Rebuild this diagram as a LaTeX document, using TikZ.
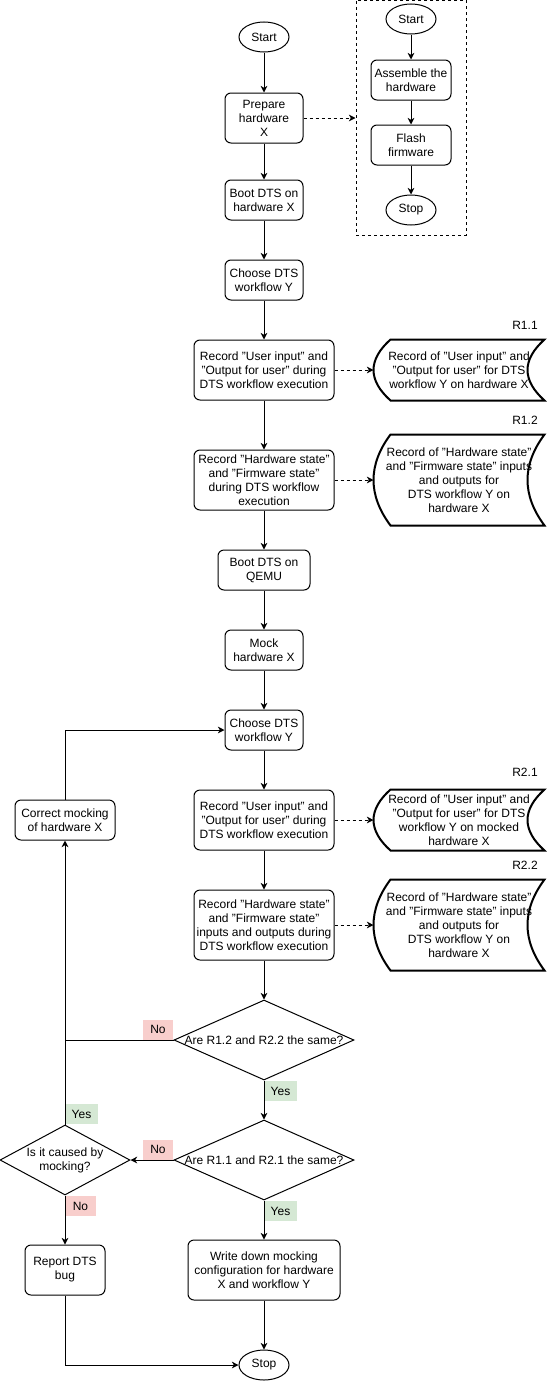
\documentclass[tikz,border=0pt]{standalone}
\usepackage{fontspec}
\setmainfont{Liberation Sans}
\usetikzlibrary{shapes.geometric, arrows.meta, calc}
\definecolor{noRed}{HTML}{F8CECC}
\definecolor{yesGreen}{HTML}{D5E8D4}

\tikzset{
  dims/.style 2 args={minimum width=0.75pt*#1, minimum height=0.75pt*#2},
  proc/.style={draw, rounded corners=4.5pt, inner sep=0pt},
  term/.style={draw, ellipse, inner sep=0pt, dims={50}{30}},
  decision/.style={draw, diamond, inner sep=0pt},
  store/.style={inner sep=0pt},
  flow/.style={-{Stealth[length=5pt, width=5pt, inset=1.5pt]}},
  dashflow/.style={flow, dash pattern=on 2.25pt off 2.25pt},
  nolabel/.style={fill=noRed, inner sep=0pt, dims={30}{20}},
  yeslabel/.style={fill=yesGreen, inner sep=0pt, dims={32}{20}}
}

% outline of a stored-data node: bulge on the left, notch on the right
\newcommand{\storeoutline}[1]{%
  \draw[line width=1.5pt] ([xshift=12.75pt]#1.north west) -- (#1.north east)
    .. controls ($(#1.north east)!1/3!(#1.south east)+(-17pt,0)$) and ($(#1.north east)!2/3!(#1.south east)+(-17pt,0)$) .. (#1.south east)
    -- ([xshift=12.75pt]#1.south west)
    .. controls ($(#1.south west)!1/3!(#1.north west)+(-4.25pt,0)$) and ($(#1.south west)!2/3!(#1.north west)+(-4.25pt,0)$) .. ([xshift=12.75pt]#1.north west) -- cycle;}

\begin{document}
\begin{tikzpicture}[x=0.75pt, y=-0.75pt, line width=0.75pt,
    every node/.style={font=\fontsize{9}{10.5}\selectfont, align=center}]
  \useasboundingbox (0,0) rectangle (551,1381);

  % main column
  \node[term] (start) at (264,37) {Start};
  \node[proc, dims={78}{50}] (prep) at (264,118) {Prepare\\hardware\\X};
  \node[proc, dims={78}{40}] (bootx) at (264,200) {Boot DTS on\\hardware X};
  \node[proc, dims={78}{40}] (choose1) at (264,280) {Choose DTS\\workflow Y};
  \node[proc, dims={140}{60}] (rec1) at (264,370) {Record "User input" and\\"Output for user" during\\DTS workflow execution};
  \node[proc, dims={140}{60}] (rec2) at (264,480) {Record "Hardware state"\\and "Firmware state"\\during DTS workflow\\execution};
  \node[proc, dims={92}{40}] (bootq) at (264,570) {Boot DTS on\\QEMU};
  \node[proc, dims={78}{40}] (mock) at (264,650) {Mock\\hardware X};
  \node[proc, dims={78}{40}] (choose2) at (264,730) {Choose DTS\\workflow Y};
  \node[proc, dims={140}{60}] (rec3) at (264,820) {Record "User input" and\\"Output for user" during\\DTS workflow execution};
  \node[proc, dims={140}{70}] (rec4) at (264,925) {Record "Hardware state"\\and "Firmware state"\\inputs and outputs during\\DTS workflow execution};
  \node[decision, shape aspect=2.25, dims={180}{80}] (same12) at (264,1040) {Are R1.2 and R2.2 the same?};
  \node[decision, shape aspect=2.25, dims={180}{80}] (same11) at (264,1160) {Are R1.1 and R2.1 the same?};
  \node[proc, dims={152}{60}] (note) at (264,1270) {Write down mocking\\configuration for hardware\\X and workflow Y};
  \node[term] (stop) at (264,1365) {Stop};

  % left column
  \node[proc, dims={100}{40}] (fix) at (65,820) {Correct mocking\\of hardware X};
  \node[decision, shape aspect=1.857, dims={130}{70}] (cause) at (65,1160) {Is it caused by\\mocking?};
  \node[proc, dims={80}{50}] (report) at (65,1270) {Report DTS\\bug};

  % preparation detail
  \node[draw, dash pattern=on 2.25pt off 2.25pt, dims={110}{235}] (frame) at (411,117.5) {};
  \node[term] (istart) at (411,19) {Start};
  \node[proc, dims={80}{40}] (assemble) at (411,80) {Assemble the\\hardware};
  \node[proc, dims={80}{40}] (flash) at (411,145) {Flash\\firmware};
  \node[term] (istop) at (411,210) {Stop};

  % recordings
  \node[store, dims={170}{60}] (r11) at (459,370) {Record of "User input" and\\"Output for user" for DTS\\workflow Y on hardware X};
  \node[store, dims={170}{90}] (r12) at (459,480) {Record of "Hardware state"\\and "Firmware state" inputs\\and outputs for\\DTS workflow Y on\\hardware X};
  \node[store, dims={170}{60}] (r21) at (459,820) {Record of "User input" and\\"Output for user" for DTS\\workflow Y on mocked\\hardware X};
  \node[store, dims={170}{90}] (r22) at (459,925) {Record of "Hardware state"\\and "Firmware state" inputs\\and outputs for\\DTS workflow Y on\\hardware X};
  \foreach \r in {r11,r12,r21,r22}
    \storeoutline{\r};
  \node (t11) at (525,325) {R1.1};
  \node (t12) at (525,420) {R1.2};
  \node (t21) at (525,772) {R2.1};
  \node (t22) at (525,865) {R2.2};

  % connectors
  \foreach \a/\b in {start/prep, prep/bootx, bootx/choose1, choose1/rec1, rec1/rec2,
      rec2/bootq, bootq/mock, mock/choose2, choose2/rec3, rec3/rec4, rec4/same12,
      same12/same11, same11/note, note/stop, same11/cause, cause/report, cause/fix,
      istart/assemble, assemble/flash, flash/istop}
    \draw[flow] (\a) -- (\b);
  \draw[flow] (report) |- (stop);
  \draw[flow] (fix) |- (choose2);
  \draw (same12.west) -- (same12.west -| fix.south);
  \draw[dashflow] (prep.east) -- (prep.east -| frame.west);
  \foreach \a/\b in {rec1/r11, rec2/r12, rec3/r21, rec4/r22}
    \draw[dashflow] (\a.east) -- (\b.west);

  % branch labels
  \node[nolabel, anchor=south east] (no1) at (same12.west) {No};
  \node[yeslabel, anchor=north west] (yes1) at (same12.south) {Yes};
  \node[nolabel, anchor=south east] (no2) at (same11.west) {No};
  \node[yeslabel, anchor=north west] (yes2) at (same11.south) {Yes};
  \node[yeslabel, anchor=south west] (yes3) at (cause.north) {Yes};
  \node[nolabel, anchor=north west] (no3) at (cause.south) {No};
\end{tikzpicture}
\end{document}
